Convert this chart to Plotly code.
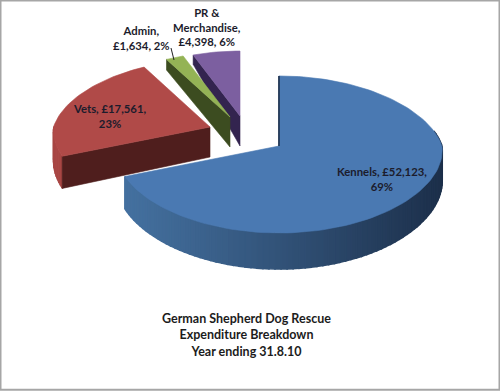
import math
import plotly.graph_objects as go

categories = ["Kennels", "Vets", "Admin", "PR &amp; Merchandise"]
values = [52123, 17561, 1634, 4398]
label_breaks = [
    "Kennels, £{v:,},<br>{p}%",
    "Vets, £{v:,},<br>{p}%",
    "Admin,<br>£{v:,}, {p}%",
    "PR &amp;<br>Merchandise,<br>£{v:,}, {p}%",
]
title_lines = ["German Shepherd Dog Rescue", "Expenditure Breakdown", "Year ending 31.8.10"]

top_colors = ["#4a79b2", "#b04a48", "#94b355", "#7c5fa0"]
side_colors = ["#1c2f4a", "#4f1e1d", "#3c4c20", "#33244f"]
apex = [(279, 146), (210, 127), (230, 117), (240, 116)]
radius = [1.0, 0.96, 0.92, 0.92]
label_pos = [(382, 179), (109, 116), (141, 38), (207, 27)]

A, B, P = 163.0, 77.6, 0.108
total = sum(values)


def project(i, a, r=None, drop=False):
    r = radius[i] if r is None else r
    u, v = r * math.sin(a), -r * math.cos(a)
    w = 1 - P * v
    x = apex[i][0] + A * u / w ** (0.5 if v > 0 else 1.5)
    y = apex[i][1] + B * v / w
    if drop:
        y += 30 + 6 * v if v > 0 else 30 + 24 * v
    return x, y


def lerp_hex(c1, c2, t):
    a = [int(c1[k:k + 2], 16) for k in (1, 3, 5)]
    b = [int(c2[k:k + 2], 16) for k in (1, 3, 5)]
    return "rgb(%d,%d,%d)" % tuple(round(p + (q - p) * t) for p, q in zip(a, b))


fig = go.Figure()


def poly(pts, color, lw=0.6):
    fig.add_trace(go.Scatter(
        x=[p[0] for p in pts] + [pts[0][0]],
        y=[p[1] for p in pts] + [pts[0][1]],
        mode="lines", fill="toself", fillcolor=color,
        line=dict(color=color, width=lw), hoverinfo="skip", showlegend=False))


bounds = []
acc = 0.0
for val in values:
    a0 = acc / total * 2 * math.pi
    acc += val
    bounds.append((a0, acc / total * 2 * math.pi))

for i in [3, 2, 1, 0]:
    a0, a1 = bounds[i]
    n = max(4, int((a1 - a0) / math.radians(2.0)))
    angles = [a0 + (a1 - a0) * k / n for k in range(n + 1)]
    # outer rim
    for k in range(n):
        s, e = angles[k], angles[k + 1]
        if i == 0 and e > math.radians(80):
            px = project(i, s)[0]
            t = min(1, max(0, (px - 127) / 316)) ** 1.1
            poly([project(i, s), project(i, e), project(i, e, drop=True), project(i, s, drop=True)],
                 lerp_hex("#44709f", side_colors[0], t), 1.6)
        elif i == 1 and s < math.radians(270):
            poly([project(i, s), project(i, e), project(i, e, drop=True), project(i, s, drop=True)],
                 "#a84644", 1.0)
    # cut face at the start edge
    poly([project(i, a0), project(i, a0, 0.0), project(i, a0, 0.0, True), project(i, a0, None, True)],
         side_colors[i])
    # top
    poly([project(i, a, None) for a in angles] + [project(i, 0, 0.0)], top_colors[i])

# thin dark cut edge on the large slice
e0, e1 = project(0, bounds[0][0]), project(0, 0, 0.0)
fig.add_trace(go.Scatter(x=[e0[0], e1[0]], y=[e0[1], e1[1]], mode="lines",
                         line=dict(color=side_colors[0], width=1.5),
                         hoverinfo="skip", showlegend=False))

annotations = []
for i, val in enumerate(values):
    pct = round(val / total * 100)
    annotations.append(dict(
        x=label_pos[i][0], y=label_pos[i][1], xref="x", yref="y",
        text="<b>" + label_breaks[i].format(v=val, p=pct) + "</b>",
        showarrow=False, align="center", xanchor="center", yanchor="middle",
        font=dict(family="Lato", size=11.3, color="#1c1c2c")))
annotations.append(dict(
    x=246, y=335, xref="x", yref="y", text="<b>" + "<br>".join(title_lines) + "</b>",
    showarrow=False, align="center", xanchor="center", yanchor="middle",
    font=dict(family="Lato", size=12.5, color="#1c1c1c")))

fig.update_layout(
    width=500, height=391, margin=dict(l=0, r=0, t=0, b=0),
    paper_bgcolor="white", plot_bgcolor="white", showlegend=False,
    xaxis=dict(range=[0, 500], visible=False, fixedrange=True),
    yaxis=dict(range=[391, 0], visible=False, fixedrange=True),
    annotations=annotations,
    shapes=[
        dict(type="rect", xref="x", yref="y", x0=0.5, y0=0.5, x1=499.5, y1=389.8,
             line=dict(color="#a6a6a6", width=2), fillcolor="rgba(0,0,0,0)"),
        dict(type="line", xref="x", yref="y", x0=171, y0=48, x1=174, y1=60,
             line=dict(color="#222222", width=1)),
    ],
)
fig.write_html("out.html", config={"displayModeBar": False},
               post_script="document.body.style.margin='0';document.documentElement.style.overflow='hidden';")
